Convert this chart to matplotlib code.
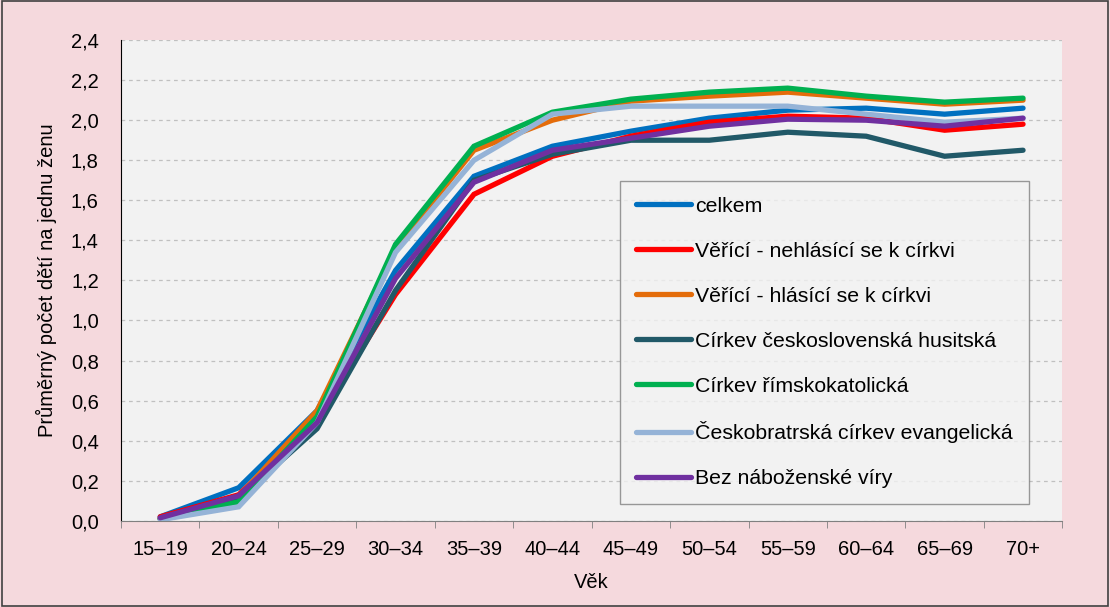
import matplotlib.pyplot as plt
from matplotlib.patches import Rectangle
from matplotlib.ticker import FixedLocator, FuncFormatter

plt.rcParams["font.family"] = ["Liberation Sans", "DejaVu Sans"]

ages = ["15–19", "20–24", "25–29", "30–34", "35–39", "40–44",
        "45–49", "50–54", "55–59", "60–64", "65–69", "70+"]

celkem = [0.02, 0.165, 0.55, 1.25, 1.72, 1.87, 1.945, 2.01, 2.05, 2.06, 2.03, 2.06]
nehlasici = [0.02, 0.13, 0.50, 1.13, 1.63, 1.82, 1.92, 1.99, 2.02, 2.01, 1.95, 1.98]
hlasici = [0.01, 0.12, 0.55, 1.36, 1.85, 2.00, 2.095, 2.12, 2.14, 2.11, 2.08, 2.10]
husitska = [0.01, 0.11, 0.46, 1.15, 1.70, 1.83, 1.90, 1.90, 1.94, 1.92, 1.82, 1.85]
rimskokat = [0.01, 0.095, 0.52, 1.38, 1.87, 2.04, 2.105, 2.14, 2.16, 2.12, 2.09, 2.11]
evangelicka = [0.005, 0.07, 0.49, 1.34, 1.80, 2.03, 2.07, 2.07, 2.07, 2.03, 1.99, 2.01]
bez_viry = [0.015, 0.125, 0.49, 1.21, 1.69, 1.85, 1.91, 1.97, 2.005, 2.00, 1.97, 2.01]

series = [
    ("celkem", celkem, "#0070C0"),
    ("Věřící - nehlásící se k církvi", nehlasici, "#FF0000"),
    ("Věřící - hlásící se k církvi", hlasici, "#E46C0A"),
    ("Církev československá husitská", husitska, "#215968"),
    ("Církev římskokatolická", rimskokat, "#00B050"),
    ("Českobratrská církev evangelická", evangelicka, "#95B3D7"),
    ("Bez náboženské víry", bez_viry, "#7030A0"),
]

FS = 14.5

fig = plt.figure(figsize=(11.1, 6.07), dpi=100, facecolor="#F5D9DD")
fig.patches.append(Rectangle((0.002, 0.002), 0.996, 0.996, transform=fig.transFigure,
                             fill=False, edgecolor="#404040", linewidth=1.2))
ax = fig.add_axes([0.109, 0.142, 0.848, 0.792])
ax.set_facecolor("#F2F2F2")

x = range(len(ages))
for label, vals, color in series:
    ax.plot(x, vals, color=color, linewidth=3.8, label=label,
            solid_capstyle="round", solid_joinstyle="miter")

ax.set_xlim(-0.5, len(ages) - 0.5)
ax.set_ylim(0, 2.4)
ax.set_yticks([i * 0.2 for i in range(13)])
ax.yaxis.set_major_formatter(FuncFormatter(lambda v, p: f"{v:.1f}".replace(".", ",")))
ax.set_xticks(list(x))
ax.set_xticklabels(ages)
ax.xaxis.set_minor_locator(FixedLocator([i - 0.5 for i in range(len(ages) + 1)]))
ax.tick_params(axis="x", which="major", length=0, pad=14, labelsize=FS)
ax.tick_params(axis="x", which="minor", length=5, color="#808080", direction="out")
ax.tick_params(axis="y", length=0, pad=16, labelsize=FS)

ax.grid(axis="y", linestyle=(0, (3, 3)), color="#C0C0C0", linewidth=0.9)
ax.set_axisbelow(True)
for side in ["top", "right"]:
    ax.spines[side].set_visible(False)
ax.spines["left"].set_color("#000000")
ax.spines["bottom"].set_color("#808080")

ax.set_ylabel("Průměrný počet dětí na jednu ženu", fontsize=FS, labelpad=10)
ax.set_xlabel("Věk", fontsize=FS, labelpad=10)

leg = ax.legend(loc="upper left", bbox_to_anchor=(0.53, 0.707), fontsize=15.3,
                frameon=True, fancybox=False, facecolor="#F2F2F2", edgecolor="#808080",
                labelspacing=1.22, handlelength=2.6, handletextpad=0.2,
                borderpad=0.75, borderaxespad=0)
leg.get_frame().set_linewidth(1.0)

fig.savefig("out.png", dpi=100, facecolor=fig.get_facecolor())
